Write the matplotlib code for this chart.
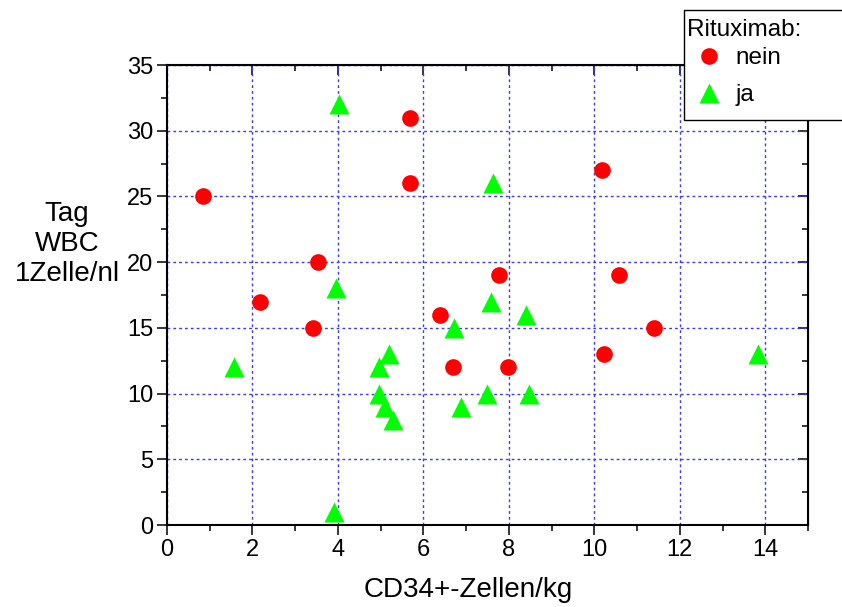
import numpy as np
import matplotlib
matplotlib.use("Agg")
import matplotlib.pyplot as plt
from matplotlib.patches import Rectangle
from matplotlib.ticker import MultipleLocator

plt.rcParams["font.family"] = ["Liberation Sans", "DejaVu Sans"]

# Rituximab: nein (red circles)
nein_x = [0.85, 2.18, 3.54, 3.42, 5.68, 5.68, 6.39, 6.70, 7.77, 7.98, 10.18, 10.58, 10.22, 11.39]
nein_y = [25, 17, 20, 15, 31, 26, 16, 12, 19, 12, 27, 19, 13, 15]

# Rituximab: ja (green triangles)
ja_x = [4.02, 1.57, 3.91, 3.95, 4.97, 5.20, 4.97, 5.10, 5.28, 6.71, 6.89, 7.62, 7.58, 7.48, 8.40, 8.47, 13.83]
ja_y = [32, 12, 1, 18, 12, 13, 10, 9, 8, 15, 9, 26, 17, 10, 16, 10, 13]

fig = plt.figure(figsize=(8.42, 6.07), dpi=100)
ax = fig.add_axes([167/842, 1-525/607, (808-167)/842, (525-65)/607])

ax.plot(nein_x, nein_y, "o", color="#ff0000", ms=12, mec="none", label="nein", zorder=3)
ax.plot(ja_x, ja_y, "^", color="#00ff00", ms=14, mec="none", label="ja", zorder=3)

ax.set_xlim(0, 15)
ax.set_ylim(0, 35)
ax.xaxis.set_major_locator(MultipleLocator(2))
ax.xaxis.set_minor_locator(MultipleLocator(1))
ax.yaxis.set_major_locator(MultipleLocator(5))
ax.yaxis.set_minor_locator(MultipleLocator(2.5))

ax.grid(True, which="major", color="#3a3aee", linestyle=(0, (2, 2.2)), linewidth=1)
ax.set_axisbelow(True)

for s in ax.spines.values():
    s.set_linewidth(1.5)

ax.tick_params(which="both", direction="out", width=1.1, labelsize=17, top=False, right=False)
ax.tick_params(which="major", length=7, pad=3)
ax.tick_params(which="minor", length=4.5)

# top / right ticks point inward
top = ax.secondary_xaxis("top")
top.xaxis.set_major_locator(MultipleLocator(2))
top.xaxis.set_minor_locator(MultipleLocator(1))
top.tick_params(which="both", direction="in", width=1.1, labeltop=False)
top.tick_params(which="major", length=7)
top.tick_params(which="minor", length=4.5)
right = ax.secondary_yaxis("right")
right.yaxis.set_major_locator(MultipleLocator(5))
right.yaxis.set_minor_locator(MultipleLocator(2.5))
right.tick_params(which="both", direction="in", width=1.1, labelright=False)
right.tick_params(which="major", length=7)
right.tick_params(which="minor", length=4.5)

fig.text(468/842, 1-590/607, "CD34+-Zellen/kg", fontsize=20, ha="center", va="center")
fig.text(67/842, 1-244/607, "Tag\nWBC\n1Zelle/nl", fontsize=20, ha="center", va="center",
         linespacing=1.2, multialignment="center")

# legend box runs past the right edge of the figure
box = Rectangle((684/842, 1-120/607), 200/842, 110/607, transform=fig.transFigure,
                facecolor="white", edgecolor="black", linewidth=1.0, zorder=5)
fig.patches.append(box)
fig.text(687/842, 1-35.5/607, "Rituximab:", fontsize=17.5, ha="left", va="baseline", zorder=6)

handles, labels = ax.get_legend_handles_labels()
leg = fig.legend(handles, labels, loc="upper left",
                 bbox_to_anchor=(686/842, 1-47/607), fontsize=17.5,
                 frameon=False, borderpad=0, labelspacing=0.63, handletextpad=0.15,
                 borderaxespad=0, handlelength=1.9)
leg.set_zorder(6)

fig.savefig("out.png", dpi=100)
